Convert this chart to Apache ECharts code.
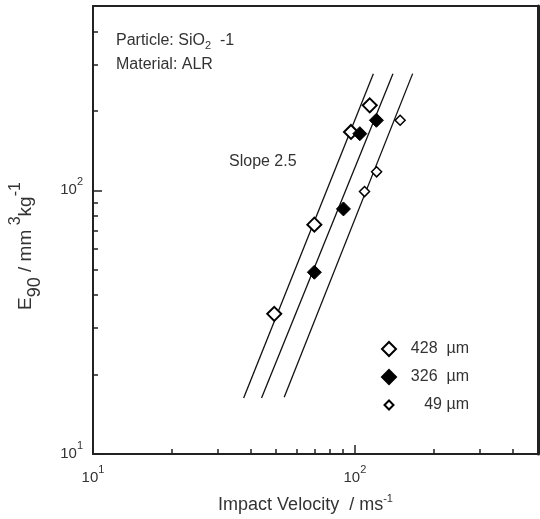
<!DOCTYPE html>
<html>
<head>
<meta charset="utf-8">
<script src="https://cdn.jsdelivr.net/npm/echarts@6/dist/echarts.min.js"></script>
<style>html,body{margin:0;padding:0;background:#fff}#c{width:540px;height:519px}</style>
</head>
<body>
<div id="c"></div>
<script>
// ---- data ----
const seriesNames = ['428  µm', '326  µm', '49 µm'];
const velocity428 = [49.2, 70.0, 96.6, 113.9];
const erosion428  = [34.0, 74.1, 166.5, 210];
const velocity326 = [70.0, 90.4, 104.4, 120.8];
const erosion326  = [48.9, 85.0, 164, 184.3];
const velocity49  = [108.8, 121.0, 148.8];
const erosion49   = [98.9, 117.5, 184.3];
// fitted lines (slope 2.5), endpoints
const line428V = [37.6, 117.6];
const line428E = [16.3, 277];
const line326V = [44.0, 139.7];
const line326E = [16.3, 277];
const line49V  = [53.7, 166.1];
const line49E  = [16.4, 277];
// ticks
const xMajorTicks = [10, 100];
const xMinorTicks = [20, 30, 40, 50, 60, 70, 80, 90, 200, 300, 400];
const yMajorTicks = [10, 100];
const yMinorTicks = [20, 30, 40, 50, 60, 70, 80, 90, 200, 300, 400];
const axisMin = 10, axisMax = 500;

const FONT = "'Liberation Sans', Arial, Helvetica, sans-serif";
const TXT = '#333';

function pairs(xs, ys) { return xs.map((x, i) => [x, ys[i]]); }
function powLabel(v) { return '{b|10}{s|' + Math.round(Math.log10(v)) + '}'; }
const tickRich = {
  b: { fontSize: 15, fontFamily: FONT, color: TXT, lineHeight: 28, verticalAlign: 'middle' },
  s: { fontSize: 11, fontFamily: FONT, color: TXT, lineHeight: 10, verticalAlign: 'top' }
};

function majorAxis(pos, isX) {
  return {
    type: 'log', logBase: 10, min: axisMin, max: axisMax, position: pos,
    axisLine: { show: true, lineStyle: { color: '#222', width: 2 } },
    axisTick: { show: true, inside: true, length: 9, customValues: isX ? xMajorTicks : yMajorTicks,
                lineStyle: { color: '#222', width: 1.5 } },
    axisLabel: { show: true, customValues: isX ? xMajorTicks : yMajorTicks, margin: isX ? 10 : 10,
                 formatter: powLabel, rich: tickRich },
    splitLine: { show: false }, minorTick: { show: false }
  };
}
function minorAxis(pos, isX) {
  return {
    type: 'log', logBase: 10, min: axisMin, max: axisMax, position: pos,
    axisLine: { show: false },
    axisTick: { show: true, inside: true, length: 5, customValues: isX ? xMinorTicks : yMinorTicks,
                lineStyle: { color: '#222', width: 1.5 } },
    axisLabel: { show: false }, splitLine: { show: false }
  };
}
function frameAxis(pos, w) {
  return {
    type: 'log', logBase: 10, min: axisMin, max: axisMax, position: pos,
    axisLine: { show: true, lineStyle: { color: '#222', width: w } },
    axisTick: { show: false }, axisLabel: { show: false }, splitLine: { show: false }
  };
}

const xMain = majorAxis('bottom', true);
xMain.name = '{b|Impact Velocity  / ms}{s|-1}';
xMain.nameLocation = 'middle';
xMain.nameGap = 39;
xMain.nameTextStyle = {
  padding: [0, 20, 0, 0],
  rich: {
    b: { fontSize: 18, fontFamily: FONT, color: TXT, lineHeight: 24, verticalAlign: 'middle' },
    s: { fontSize: 11, fontFamily: FONT, color: TXT, lineHeight: 12, verticalAlign: 'top' }
  }
};
const yMain = majorAxis('left', false);
yMain.name = '{b|E}{sub|90}{b| / mm}{sup| 3}{b|kg}{sup|-1}';
yMain.nameLocation = 'middle';
yMain.nameGap = 49;
yMain.nameTextStyle = {
  padding: [0, 32, 0, 0],
  rich: {
    b: { fontSize: 19, fontFamily: FONT, color: TXT, lineHeight: 36, verticalAlign: 'middle' },
    sub: { fontSize: 18, fontFamily: FONT, color: TXT, lineHeight: 26, verticalAlign: 'bottom' },
    sup: { fontSize: 16, fontFamily: FONT, color: TXT, lineHeight: 16, verticalAlign: 'top' }
  }
};

const lineStyle = { color: '#111', width: 1.3 };
function fitLine(v, e) {
  return { type: 'line', data: pairs(v, e), symbol: 'none', silent: true, z: 1,
           lineStyle: lineStyle, xAxisIndex: 0, yAxisIndex: 0 };
}

const option = {
  animation: false,
  backgroundColor: '#fff',
  grid: { left: 89, right: 2, top: 6, bottom: 65, containLabel: false },
  xAxis: [xMain, minorAxis('bottom', true), frameAxis('top', 2)],
  yAxis: [yMain, minorAxis('left', false), frameAxis('right', 3)],
  legend: {
    data: [
      { name: seriesNames[0] },
      { name: seriesNames[1] },
      { name: seriesNames[2], icon: 'path://M0,0M14,14M7,2.5L11.5,7L7,11.5L2.5,7Z' }
    ],
    orient: 'vertical', left: 376, top: 336,
    itemWidth: 14, itemHeight: 14, itemGap: 12,
    selectedMode: false,
    formatter: n => '{t|' + n + '}',
    textStyle: { fontFamily: FONT, fontSize: 16, color: TXT, lineHeight: 16,
                 rich: { t: { width: 68, align: 'right', fontSize: 16, fontFamily: FONT, color: TXT } } }
  },
  graphic: [
    { type: 'text', left: 116, top: 31, silent: true,
      style: { text: 'Particle: SiO{s|2}  -1', fill: TXT, font: '16px ' + FONT,
               rich: { s: { fontSize: 11, fontFamily: FONT, fill: TXT, lineHeight: 11, verticalAlign: 'bottom' } },
               lineHeight: 20 } },
    { type: 'text', left: 116, top: 57, silent: true,
      style: { text: 'Material: ALR', fill: TXT, font: '16px ' + FONT } },
    { type: 'text', left: 229, top: 154, silent: true,
      style: { text: 'Slope 2.5', fill: TXT, font: '16px ' + FONT } }
  ],
  series: [
    fitLine(line428V, line428E),
    fitLine(line326V, line326E),
    fitLine(line49V, line49E),
    { name: seriesNames[0], type: 'scatter', data: pairs(velocity428, erosion428), z: 5,
      symbol: 'diamond', symbolSize: 14,
      itemStyle: { color: '#fff', borderColor: '#000', borderWidth: 2, opacity: 1 } },
    { name: seriesNames[1], type: 'scatter', data: pairs(velocity326, erosion326), z: 5,
      symbol: 'diamond', symbolSize: 14,
      itemStyle: { color: '#000', borderColor: '#000', borderWidth: 1, opacity: 1 } },
    { name: seriesNames[2], type: 'scatter', data: pairs(velocity49, erosion49), z: 5,
      symbol: 'diamond', symbolSize: 10,
      itemStyle: { color: '#fff', borderColor: '#000', borderWidth: 1.5, opacity: 1 } }
  ]
};

const chart = echarts.init(document.getElementById('c'), null, { renderer: 'canvas' });
chart.setOption(option);
</script>
</body>
</html>
